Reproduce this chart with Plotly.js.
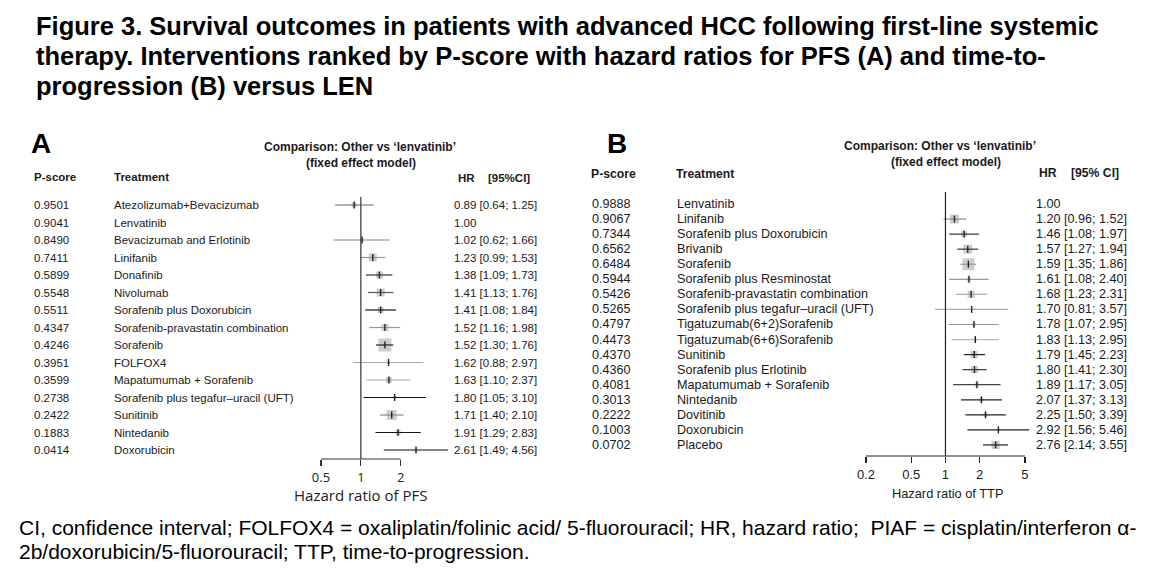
<!DOCTYPE html>
<html><head><meta charset="utf-8">
<script src="https://cdn.plot.ly/plotly-3.0.1.min.js"></script>
<style>html,body{margin:0;padding:0;background:#fff}#chart{width:1162px;height:578px}</style>
</head><body><div id="chart"></div>
<script>
// ---------- Panel A data (PFS) ----------
const pscoreA = [0.9501,0.9041,0.8490,0.7411,0.5899,0.5548,0.5511,0.4347,0.4246,0.3951,0.3599,0.2738,0.2422,0.1883,0.0414];
const treatA = ['Atezolizumab+Bevacizumab','Lenvatinib','Bevacizumab and Erlotinib','Linifanib','Donafinib','Nivolumab','Sorafenib plus Doxorubicin','Sorafenib-pravastatin combination','Sorafenib','FOLFOX4','Mapatumumab + Sorafenib','Sorafenib plus tegafur–uracil (UFT)','Sunitinib','Nintedanib','Doxorubicin'];
const hrA = [0.89,1.00,1.02,1.23,1.38,1.41,1.41,1.52,1.52,1.62,1.63,1.80,1.71,1.91,2.61];
const loA = [0.64,null,0.62,0.99,1.09,1.13,1.08,1.16,1.30,0.88,1.10,1.05,1.40,1.29,1.49];
const hiA = [1.25,null,1.66,1.53,1.73,1.76,1.84,1.98,1.76,2.97,2.37,3.10,2.10,2.83,4.56];
const weightA = [5,0,3,8,7,8,6,7,13,3,6,3,10,5,3];
const tickValsA = [0.5,1,2];
const tickTextA = ['0.5','1','2'];

// ---------- Panel B data (TTP) ----------
const pscoreB = [0.9888,0.9067,0.7344,0.6562,0.6484,0.5944,0.5426,0.5265,0.4797,0.4473,0.4370,0.4360,0.4081,0.3013,0.2222,0.1003,0.0702];
const treatB = ['Lenvatinib','Linifanib','Sorafenib plus Doxorubicin','Brivanib','Sorafenib','Sorafenib plus Resminostat','Sorafenib-pravastatin combination','Sorafenib plus tegafur–uracil (UFT)','Tigatuzumab(6+2)Sorafenib','Tigatuzumab(6+6)Sorafenib','Sunitinib','Sorafenib plus Erlotinib','Mapatumumab + Sorafenib','Nintedanib','Dovitinib','Doxorubicin','Placebo'];
const hrB = [1.00,1.20,1.46,1.57,1.59,1.61,1.68,1.70,1.78,1.83,1.79,1.80,1.89,2.07,2.25,2.92,2.76];
const loB = [null,0.96,1.08,1.27,1.35,1.08,1.23,0.81,1.07,1.13,1.45,1.41,1.17,1.37,1.50,1.56,2.14];
const hiB = [null,1.52,1.97,1.94,1.86,2.40,2.31,3.57,2.95,2.95,2.23,2.30,3.05,3.13,3.39,5.46,3.55];
const weightB = [0,9,6,9,12,4,7,2,3,3,7,7,4,4,4,2,8];
const tickValsB = [0.2,0.5,1,2,5];
const tickTextB = ['0.2','0.5','1','2','5'];

// ---------- styles (kept apart from data) ----------
const shadeA = ['#666','#000','#888','#999','#333','#555','#111','#999','#222','#aaa','#aaa','#111','#888','#111','#111'];
const shadeB = ['#000','#888','#333','#333','#999','#999','#aaa','#aaa','#999','#bbb','#222','#333','#444','#222','#222','#222','#222'];

const W = 1162, H = 578;
const PX = x => x / W;
const PY = y => 1 - y / H;
const FONT = 'Arial, "Liberation Sans", sans-serif';
const TXT = '#1a1a1a';

function fmtHR(h, l, u){
  return (l === null) ? h.toFixed(2) : h.toFixed(2) + ' [' + l.toFixed(2) + '; ' + u.toFixed(2) + ']';
}

const traces = [];
function addPanel(hr, lo, hi, w, shade, xa, ya){
  const idx = hr.map((_, i) => i).filter(i => lo[i] !== null);
  traces.push({type:'scatter', mode:'markers', xaxis:xa, yaxis:ya,
    x: idx.map(i => hr[i]), y: idx, hoverinfo:'skip', showlegend:false,
    marker:{symbol:'square', size: idx.map(i => w[i]), color:'#b8b8b8', line:{width:0}}});
  idx.forEach(i => {
    traces.push({type:'scatter', mode:'lines', xaxis:xa, yaxis:ya,
      x:[lo[i], hi[i]], y:[i, i], hoverinfo:'skip', showlegend:false,
      line:{color: shade[i], width:1.2}});
  });
  traces.push({type:'scatter', mode:'markers', xaxis:xa, yaxis:ya,
    x: idx.map(i => hr[i]), y: idx, hoverinfo:'skip', showlegend:false,
    marker:{symbol:'line-ns', size:5, line:{width:1.4, color:'#222'}}});
}
addPanel(hrA, loA, hiA, weightA, shadeA, 'x', 'y');
addPanel(hrB, loB, hiB, weightB, shadeB, 'x2', 'y2');

const sA = 132.4, sB = 113.7;
const rangeA = [Math.log10(0.5) - (321-300)/sA, Math.log10(0.5) + (452-321)/sA];
const rangeB = [Math.log10(0.2) - (866-850)/sB, Math.log10(0.2) + (1032-866)/sB];
const axA = 459, axB = 456;
const rowA0 = 205, rowAstep = 17.5, topA = 197;
const rowB0 = 204, rowBstep = 15.06, topB = 192;

const ann = [];
function t(text, x, y, size, opts){
  ann.push(Object.assign({text, x:PX(x), y:PY(y), xref:'paper', yref:'paper', showarrow:false,
    xanchor:'left', yanchor:'middle', font:{family:FONT, size, color:TXT}}, opts||{}));
}
const TF = {family:FONT, size:25.5, color:'#000'};
t('<b>Figure 3. Survival outcomes in patients with advanced HCC following first-line systemic</b>', 34, 26, 25.5, {font:TF});
t('<b>therapy. Interventions ranked by P-score with hazard ratios for PFS (A) and time-to-</b>', 34, 56, 25.5, {font:TF});
t('<b>progression (B) versus LEN</b>', 34, 86, 25.5, {font:TF});
const CF = {family:FONT, size:21, color:'#000'};
t('CI, confidence interval; FOLFOX4 = oxaliplatin/folinic acid/ 5-fluorouracil; HR, hazard ratio;  PIAF = cisplatin/interferon α-', 17, 527, 21, {font:CF});
t('2b/doxorubicin/5-fluorouracil; TTP, time-to-progression.', 17, 551, 21, {font:CF});

t('<b>A</b>', 29, 143, 28, {font:{family:FONT,size:28,color:'#000'}});
t('<b>B</b>', 605, 143, 28, {font:{family:FONT,size:28,color:'#000'}});
t('<b>Comparison: Other vs ‘lenvatinib’</b>', 360, 147, 12, {xanchor:'center'});
t('<b>(fixed effect model)</b>', 361, 163, 12, {xanchor:'center'});
t('<b>Comparison: Other vs ‘lenvatinib’</b>', 940, 146, 12, {xanchor:'center'});
t('<b>(fixed effect model)</b>', 946, 162, 12, {xanchor:'center'});
t('<b>P-score</b>', 32, 177, 11.5);
t('<b>Treatment</b>', 112, 177, 11.5);
t('<b>HR</b>', 456, 178, 11.5);
t('<b>[95%CI]</b>', 486, 178, 11.5);
t('<b>P-score</b>', 589, 174, 12.2);
t('<b>Treatment</b>', 674, 174, 12.2);
t('<b>HR</b>', 1037, 173, 12.2);
t('<b>[95% CI]</b>', 1069, 173, 12.2);

function rows(ps, tr, hr, lo, hi, yref, xP, xT, xH, fs){
  ps.forEach((p, i) => {
    const base = {xref:'paper', yref, y:i, showarrow:false, xanchor:'left', yanchor:'middle', font:{family:FONT, size:fs, color:TXT}};
    ann.push(Object.assign({}, base, {x:PX(xP), text:p.toFixed(4)}));
    ann.push(Object.assign({}, base, {x:PX(xT), text:tr[i]}));
    ann.push(Object.assign({}, base, {x:PX(xH), text:fmtHR(hr[i], lo[i], hi[i])}));
  });
}
rows(pscoreA, treatA, hrA, loA, hiA, 'y', 32, 112, 452, 11.5);
rows(pscoreB, treatB, hrB, loB, hiB, 'y2', 590, 675, 1034, 12.6);

ann.push({text:'Hazard ratio of PFS', xref:'paper', yref:'paper', x:PX(360), y:PY(495), showarrow:false, xanchor:'center', yanchor:'middle', font:{family:'"Open Sans", sans-serif', size:15, color:'#222'}});
ann.push({text:'Hazard ratio of TTP', xref:'paper', yref:'paper', x:PX(947), y:PY(493), showarrow:false, xanchor:'center', yanchor:'middle', font:{family:FONT, size:12.8, color:TXT}});

const shapes = [
  {type:'line', xref:'x', yref:'paper', x0:1, x1:1, y0:PY(axA), y1:PY(topA), line:{color:'#333', width:1.2}},
  {type:'line', xref:'x', yref:'paper', x0:tickValsA[0], x1:tickValsA[tickValsA.length-1], y0:PY(axA), y1:PY(axA), line:{color:'#333', width:1.2}},
  {type:'line', xref:'x2', yref:'paper', x0:1, x1:1, y0:PY(axB), y1:PY(topB), line:{color:'#222', width:1.2}},
  {type:'line', xref:'x2', yref:'paper', x0:tickValsB[0], x1:tickValsB[tickValsB.length-1], y0:PY(axB), y1:PY(axB), line:{color:'#222', width:1.2}}
];

const layout = {
  width:W, height:H, margin:{l:0,r:0,t:0,b:0}, paper_bgcolor:'#fff', plot_bgcolor:'rgba(0,0,0,0)',
  showlegend:false,
  xaxis:{type:'log', domain:[PX(300), PX(452)], range:rangeA, anchor:'y',
    tickvals:tickValsA, ticktext:tickTextA, ticks:'outside', ticklen:6, tickwidth:1.2, tickcolor:'#333',
    showline:false, showgrid:false, zeroline:false, fixedrange:true,
    tickfont:{family:'"Open Sans", sans-serif', size:13, color:'#222'}},
  yaxis:{domain:[PY(axA), PY(topA - 4)], range:[(axA-rowA0)/rowAstep, (topA-4-rowA0)/rowAstep], anchor:'x',
    visible:false, fixedrange:true},
  xaxis2:{type:'log', domain:[PX(850), PX(1032)], range:rangeB, anchor:'y2',
    tickvals:tickValsB, ticktext:tickTextB, ticks:'outside', ticklen:6, tickwidth:1.2, tickcolor:'#222',
    showline:false, showgrid:false, zeroline:false, fixedrange:true,
    tickfont:{family:FONT, size:13, color:TXT}},
  yaxis2:{domain:[PY(axB), PY(topB - 2)], range:[(axB-rowB0)/rowBstep, (topB-2-rowB0)/rowBstep], anchor:'x2',
    visible:false, fixedrange:true},
  annotations: ann,
  shapes: shapes
};

Plotly.newPlot('chart', traces, layout, {displayModeBar:false, staticPlot:true});
</script></body></html>
